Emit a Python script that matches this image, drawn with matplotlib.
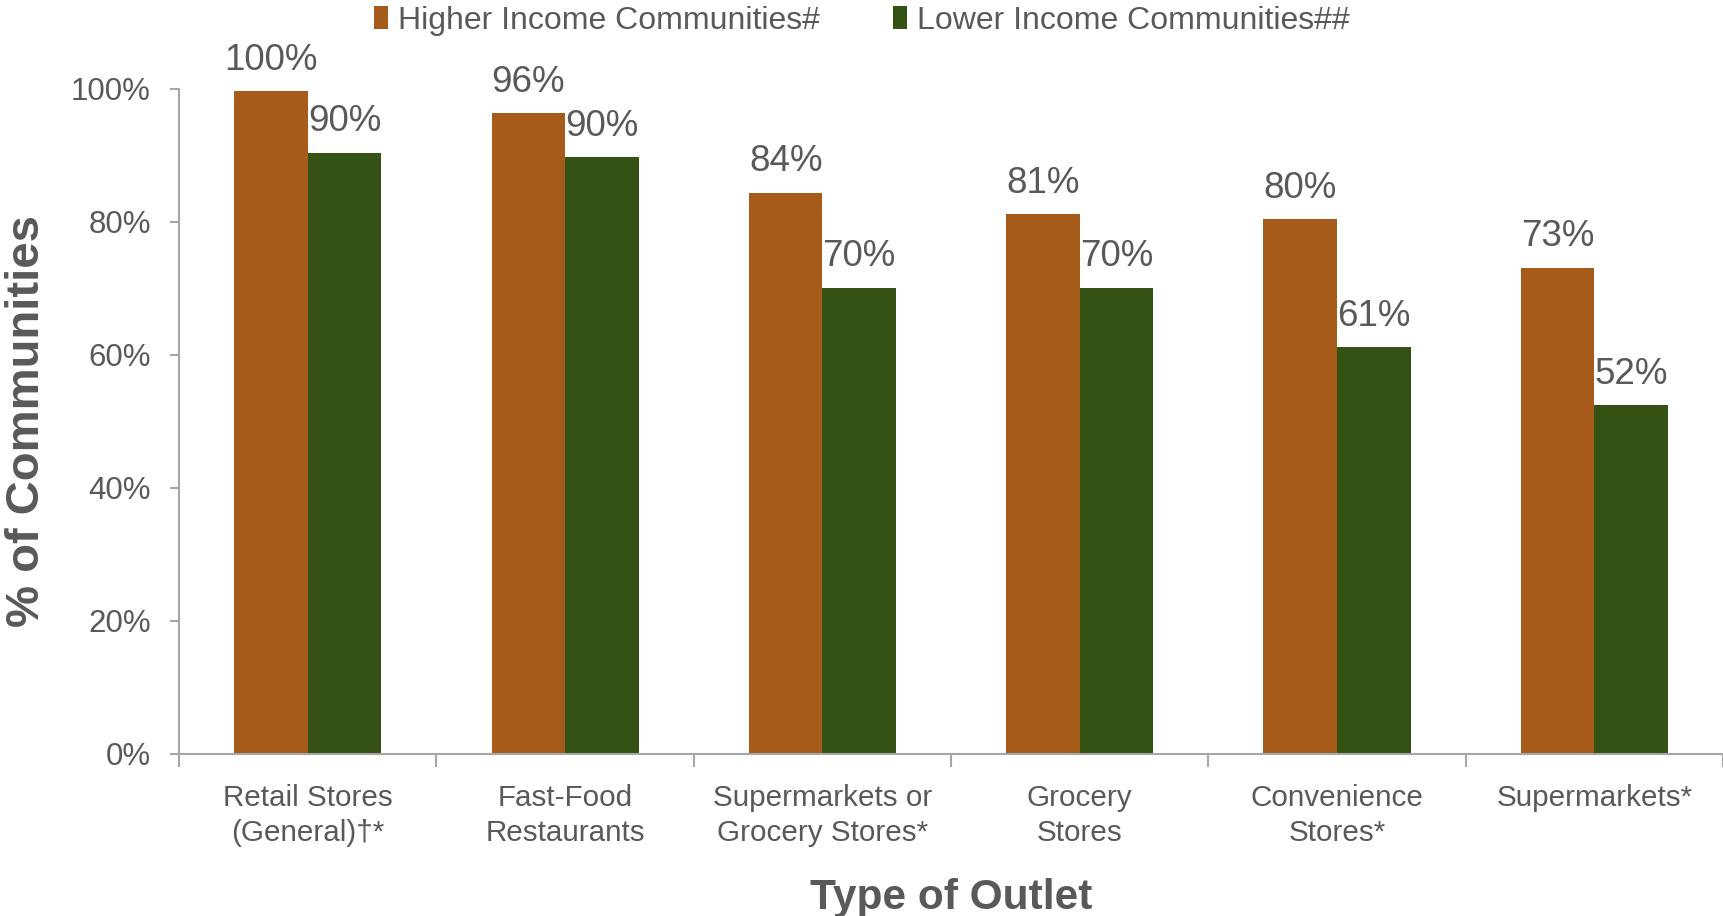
import numpy as np
import matplotlib
matplotlib.use("Agg")
import matplotlib.pyplot as plt

plt.rcParams['font.family'] = ['Liberation Sans', 'DejaVu Sans']

categories = ["Retail Stores\n(General)\u2020*", "Fast-Food\nRestaurants",
              "Supermarkets or\nGrocery Stores*", "Grocery\nStores",
              "Convenience\nStores*", "Supermarkets*"]
higher = [99.7, 96.3, 84.4, 81.2, 80.4, 73.1]
lower = [90.4, 89.7, 70.1, 70.1, 61.2, 52.4]
series_names = ["Higher Income Communities#", "Lower Income Communities##"]

orange = "#A75B1A"
green = "#335214"
text_col = "#595959"
axis_col = "#A6A6A6"

fig = plt.figure(figsize=(17.23, 9.16), dpi=100)
ax = fig.add_axes([0.104, 0.177, 0.896, 0.726])

x = np.arange(len(categories))
w = 0.286
b1 = ax.bar(x - w / 2, higher, w, color=orange, label=series_names[0])
b2 = ax.bar(x + w / 2, lower, w, color=green, label=series_names[1])

for bars in (b1, b2):
    for r in bars:
        h = r.get_height()
        ax.text(r.get_x() + r.get_width() / 2, h + 2.0, f"{h:.0f}%",
                ha="center", va="bottom", fontsize=26.5, color=text_col, clip_on=False)

ax.set_xlim(-0.5, 5.5)
ax.set_ylim(0, 100)
ax.set_yticks(np.arange(0, 101, 20))
ax.set_yticklabels([f"{v}%" for v in range(0, 101, 20)])
ax.set_xticks(x)
ax.set_xticklabels(categories, linespacing=1.3)
ax.set_xticks(np.arange(-0.5, 6, 1), minor=True)

for s in ("top", "right"):
    ax.spines[s].set_visible(False)
for s in ("left", "bottom"):
    ax.spines[s].set_color(axis_col)
    ax.spines[s].set_linewidth(1.5)

ax.tick_params(axis="y", colors=axis_col, labelcolor=text_col, labelsize=22.5,
               length=6.5, width=1.5, pad=14)
ax.tick_params(axis="x", which="major", length=0, labelcolor=text_col,
               labelsize=21.3, pad=22)
ax.tick_params(axis="x", which="minor", length=9, width=1.5, colors=axis_col)

ax.set_xlabel("Type of Outlet", fontsize=30.5, fontweight="bold", color=text_col, labelpad=22)
ax.set_ylabel("% of Communities", fontsize=34, fontweight="bold", color=text_col, labelpad=16)

fig.legend(loc="upper center", bbox_to_anchor=(0.5, 1.025), ncol=2, frameon=False,
           fontsize=23, handlelength=0.45, handleheight=0.75, handletextpad=0.3,
           columnspacing=2.3, labelcolor=text_col)

fig.savefig("out.png", dpi=100)
